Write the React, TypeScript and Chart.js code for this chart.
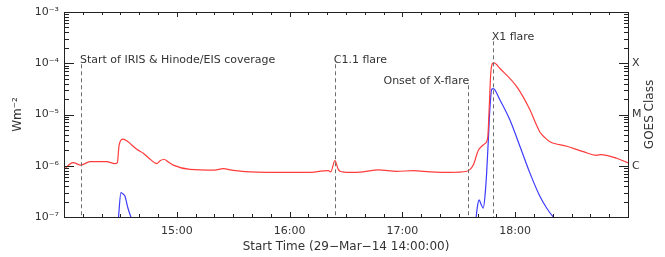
import React, { useEffect, useRef } from 'react';
import { Chart, registerables } from 'chart.js';

Chart.register(...registerables);

// minutes after 14:00 and GOES 1-8 Å flux (W m^-2)
const redTimes = [0, 4.8, 9, 13.8, 22.7, 27.1, 28.4, 29.3, 31.5, 33.7, 38.7, 42.2, 45.7, 49.3, 51.1, 53.2, 55.3, 58.1, 67, 80, 84.7, 90, 102.5, 129.1, 140.6, 141.9, 144.1, 145.9, 146.8, 152.1, 159.2, 167.2, 177, 185.8, 194.7, 205.3, 214.2, 216, 217.7, 220.4, 222.2, 223.9, 225.4, 226.2, 227, 228, 228.7, 231.9, 240.8, 247.9, 250.5, 253.2, 255.9, 258.5, 267.4, 276.2, 283.3, 285.5, 294, 300];
const redFlux = [8.5e-7, 1.15e-6, 1.03e-6, 1.2e-6, 1.2e-6, 1.1e-6, 1.15e-6, 2.5e-6, 3.3e-6, 3.0e-6, 2.1e-6, 1.75e-6, 1.35e-6, 1.1e-6, 1.25e-6, 1.34e-6, 1.2e-6, 1.03e-6, 8.5e-7, 8.2e-7, 8.8e-7, 8.1e-7, 7.5e-7, 7.4e-7, 8e-7, 7.6e-7, 1.26e-6, 8.5e-7, 7.8e-7, 7.4e-7, 7.6e-7, 8.3e-7, 7.8e-7, 8e-7, 7.6e-7, 7.4e-7, 7.8e-7, 8.5e-7, 1.03e-6, 2.0e-6, 2.4e-6, 2.7e-6, 3.6e-6, 1.42e-5, 6.4e-5, 1.0e-4, 1.02e-4, 7.9e-5, 3.5e-5, 1.22e-5, 7.3e-6, 4.5e-6, 3.5e-6, 2.95e-6, 2.4e-6, 1.88e-6, 1.6e-6, 1.65e-6, 1.4e-6, 1.14e-6];

// minutes after 14:00 and GOES 0.5-4 Å flux (W m^-2); null = gap
const blueTimes = [28.9, 30.3, 31.4, 32.4, 34.0, 36.0, 100, 219.1, 219.9, 220.8, 221.8, 223.0, 223.9, 224.8, 225.7, 226.6, 227.5, 228.3, 231.9, 237.2, 242.6, 247.9, 253.2, 256.8, 260.3, 262];
const blueFlux = [9e-8, 2.98e-7, 2.8e-7, 2.57e-7, 1.5e-7, 9e-8, null, 9e-8, 1.6e-7, 2.15e-7, 1.8e-7, 1.48e-7, 2.5e-7, 7.1e-7, 3.16e-6, 1.4e-5, 3.1e-5, 3.2e-5, 1.92e-5, 7.8e-6, 2.35e-6, 7.1e-7, 2.5e-7, 1.48e-7, 1.0e-7, 9e-8];

const xTickMinutes = [60, 120, 180, 240];
const xTickLabels = ['15:00', '16:00', '17:00', '18:00'];
const yTickValues = [1e-7, 1e-6, 1e-5, 1e-4, 1e-3];
const yTickLabels = ['10⁻⁷', '10⁻⁶', '10⁻⁵', '10⁻⁴', '10⁻³'];
const classValues = [1e-6, 1e-5, 1e-4];
const classLabels = ['C', 'M', 'X'];

const eventTimes = [9, 144, 215, 228];
const eventLabels = ['Start of IRIS & Hinode/EIS coverage', 'C1.1 flare', 'Onset of X-flare', 'X1 flare'];
const eventTops = [1e-4, 1e-4, 3.9e-5, 2.8e-4];

const FONT = '"DejaVu Sans", "Liberation Sans", sans-serif';

const idlAxes = {
  id: 'idlAxes',
  afterDatasetsDraw(chart: any) {
    const { ctx, chartArea: a, scales } = chart;
    const x = scales.x;
    const y = scales.y;
    ctx.save();

    // event lines
    ctx.strokeStyle = '#6e6e6e';
    ctx.lineWidth = 1;
    ctx.setLineDash([4, 3]);
    eventTimes.forEach((t, i) => {
      const px = Math.round(x.getPixelForValue(t)) + 0.5;
      const top = y.getPixelForValue(eventTops[i]);
      ctx.beginPath();
      ctx.moveTo(px, top + 1);
      ctx.lineTo(px, a.bottom);
      ctx.stroke();
    });
    ctx.setLineDash([]);

    // event labels
    ctx.fillStyle = '#333';
    ctx.font = '11px ' + FONT;
    ctx.textBaseline = 'alphabetic';
    eventTimes.forEach((t, i) => {
      const px = x.getPixelForValue(t);
      const top = y.getPixelForValue(eventTops[i]);
      if (i === 2) {
        ctx.textAlign = 'right';
        ctx.fillText(eventLabels[i], px + 1, top);
      } else {
        ctx.textAlign = 'left';
        ctx.fillText(eventLabels[i], px - 1, top);
      }
    });

    // frame
    ctx.strokeStyle = '#222';
    ctx.lineWidth = 1;
    ctx.strokeRect(a.left + 0.5, a.top + 0.5, a.right - a.left, a.bottom - a.top);

    // x ticks (every 10 min, hour major), inward on bottom and top
    ctx.beginPath();
    for (let m = 10; m < 300; m += 10) {
      const px = Math.round(x.getPixelForValue(m)) + 0.5;
      const len = m % 60 === 0 ? 5 : 3;
      ctx.moveTo(px, a.bottom);
      ctx.lineTo(px, a.bottom - len);
      ctx.moveTo(px, a.top);
      ctx.lineTo(px, a.top + len);
    }
    // y ticks (log), inward on left and right
    for (let e = -7; e <= -3; e++) {
      for (let k = 1; k <= 9; k++) {
        const v = k * Math.pow(10, e);
        if (v > 1.0001e-3) break;
        const py = Math.round(y.getPixelForValue(v)) + 0.5;
        const len = k === 1 ? 10 : 5;
        ctx.moveTo(a.left, py);
        ctx.lineTo(a.left + len, py);
        ctx.moveTo(a.right + 1, py);
        ctx.lineTo(a.right + 1 - len, py);
      }
    }
    ctx.stroke();

    // right title
    ctx.fillStyle = '#333';
    ctx.font = '12px ' + FONT;
    ctx.textAlign = 'center';
    ctx.textBaseline = 'middle';
    ctx.translate(650, (a.top + a.bottom) / 2);
    ctx.rotate(-Math.PI / 2);
    ctx.fillText('GOES Class', 0, 0);
    ctx.restore();
  },
};

export default function App() {
  const ref = useRef<HTMLCanvasElement | null>(null);

  useEffect(() => {
    if (!ref.current) return;
    Chart.defaults.font.family = FONT;
    Chart.defaults.color = '#333';
    const chart = new Chart(ref.current, {
      type: 'line',
      data: {
        datasets: [
          {
            label: '1-8 Å',
            data: redTimes.map((t, i) => ({ x: t, y: redFlux[i] })),
            borderColor: 'rgb(255,60,60)',
            borderWidth: 1.2,
            pointRadius: 0,
            cubicInterpolationMode: 'monotone',
            yAxisID: 'y',
          },
          {
            label: '0.5-4 Å',
            data: blueTimes.map((t, i) => ({ x: t, y: blueFlux[i] })),
            borderColor: 'rgb(60,60,255)',
            borderWidth: 1.2,
            pointRadius: 0,
            spanGaps: false,
            cubicInterpolationMode: 'monotone',
            yAxisID: 'y',
          },
        ],
      },
      options: {
        animation: false,
        responsive: false,
        events: [],
        layout: { padding: { top: 12, left: 0, right: 0, bottom: 0 } },
        plugins: { legend: { display: false }, tooltip: { enabled: false } },
        scales: {
          x: {
            type: 'linear',
            min: 0,
            max: 300,
            grid: { display: false, drawTicks: false },
            border: { display: false },
            afterBuildTicks: (s: any) => {
              s.ticks = xTickMinutes.map((v) => ({ value: v }));
            },
            afterFit: (s: any) => {
              s.height = 40;
            },
            ticks: {
              padding: 8,
              maxRotation: 0,
              minRotation: 0,
              autoSkip: false,
              font: { size: 11 },
              callback: (_v: any, i: number) => xTickLabels[i],
            },
            title: {
              display: true,
              text: 'Start Time (29−Mar−14 14:00:00)',
              font: { size: 12 },
              padding: { top: 0, bottom: 3 },
            },
          },
          y: {
            type: 'logarithmic',
            position: 'left',
            min: 1e-7,
            max: 1e-3,
            grid: { display: false, drawTicks: false },
            border: { display: false },
            afterBuildTicks: (s: any) => {
              s.ticks = yTickValues.map((v) => ({ value: v }));
            },
            afterFit: (s: any) => {
              s.width = 64;
            },
            ticks: {
              padding: 5,
              autoSkip: false,
              font: { size: 11 },
              callback: (_v: any, i: number) => yTickLabels[i],
            },
            title: {
              display: true,
              text: 'Wm⁻²',
              font: { size: 12 },
              padding: { top: 11, bottom: 0 },
            },
          },
          y2: {
            type: 'logarithmic',
            position: 'right',
            min: 1e-7,
            max: 1e-3,
            grid: { display: false, drawTicks: false },
            border: { display: false },
            afterBuildTicks: (s: any) => {
              s.ticks = classValues.map((v) => ({ value: v }));
            },
            afterFit: (s: any) => {
              s.width = 37;
            },
            ticks: {
              padding: 4,
              autoSkip: false,
              font: { size: 11 },
              callback: (_v: any, i: number) => classLabels[i],
            },
          },
        },
      },
      plugins: [idlAxes],
    } as any);
    return () => chart.destroy();
  }, []);

  return (
    <div style={{ position: 'absolute', left: 0, top: 0, width: 665, height: 257, background: '#fff' }}>
      <canvas ref={ref} width={665} height={257} style={{ display: 'block' }} />
    </div>
  );
}
